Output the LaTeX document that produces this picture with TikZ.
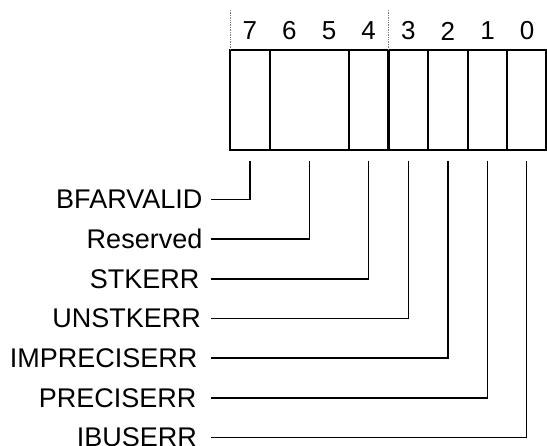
\documentclass[tikz,border=0pt]{standalone}
\usepackage{fontspec}
\setmainfont{Liberation Sans}
\begin{document}
\begin{tikzpicture}[x=1pt,y=-1pt,
  field/.style={draw,line width=2.2pt,minimum height=100pt,inner sep=0pt,outer sep=0pt,anchor=north west},
  num/.style={font=\fontsize{26}{26}\selectfont,inner sep=0pt},
  lbl/.style={font=\fontsize{27}{27}\selectfont,inner sep=0pt,anchor=east},
  conn/.style={line width=1.5pt},
  guide/.style={densely dotted,gray,line width=0.7pt}]
\useasboundingbox (0,0) rectangle (547,446);
% fields
\node[field,minimum width=39.6pt] (f7) at (230,50) {};
\node[field,minimum width=79.3pt] (f65) at (269.6,50) {};
\node[field,minimum width=39.6pt] (f4) at (348.9,50) {};
\node[field,minimum width=39.6pt] (f3) at (388.5,50) {};
\node[field,minimum width=39.6pt] (f2) at (428.1,50) {};
\node[field,minimum width=39.6pt] (f1) at (467.7,50) {};
\node[field,minimum width=38.6pt] (f0) at (507.3,50) {};
% guides
\draw[guide] ([yshift=40pt]f7.north west) -- (f7.north west);
\draw[guide] ([yshift=40pt]f3.north west) -- (f3.north west);
% bit numbers
\node[num] (n7) at (249.8,31) {7};
\node[num] (n6) at (289.4,31) {6};
\node[num] (n5) at (329.1,31) {5};
\node[num] (n4) at (368.7,31) {4};
\node[num] (n3) at (408.3,31) {3};
\node[num] (n2) at (447.9,31) {2};
\node[num] (n1) at (487.5,31) {1};
\node[num] (n0) at (527,31) {0};
% labels
\node[lbl] (l7) at (202.5,199.5) {BFARVALID};
\node[lbl] (l65) at (202.5,239.2) {Reserved};
\node[lbl] (l4) at (199.5,278.9) {STKERR};
\node[lbl] (l3) at (201,318.6) {UNSTKERR};
\node[lbl] (l2) at (197.5,358.2) {IMPRECISERR};
\node[lbl] (l1) at (196.5,397.9) {PRECISERR};
\node[lbl] (l0) at (197,437.6) {IBUSERR};
% connectors
\foreach \a in {7,65,4,3,2,1,0}
  \draw[conn] ([xshift=211pt]l\a.east -| 0,0) -| ([yshift=-11pt]f\a.south);
\end{tikzpicture}
\end{document}
